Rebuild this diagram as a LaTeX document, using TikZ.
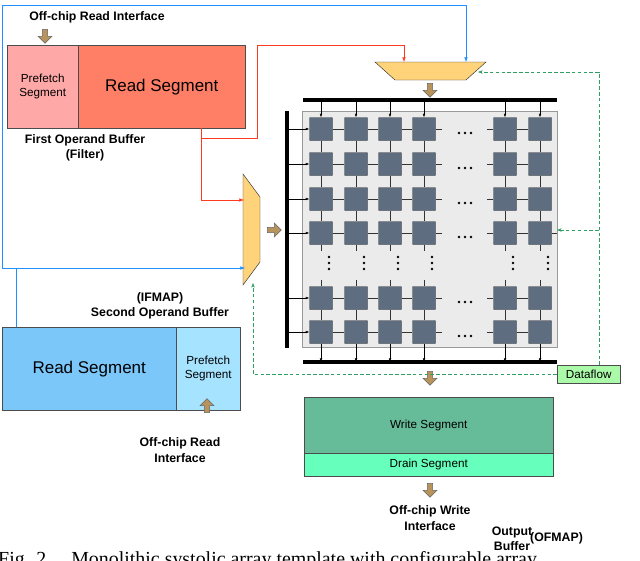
\documentclass[tikz,border=0pt]{standalone}
\usepackage{fontspec}
\setmainfont{Liberation Sans}
\newfontfamily\capfont{Liberation Serif}
\usepackage{tikz}
\usetikzlibrary{shapes,arrows,arrows.meta,shapes.arrows,calc}

\definecolor{blueln}{HTML}{1E90FF}
\definecolor{redln}{HTML}{FF3B1F}
\definecolor{greenln}{HTML}{2E9E63}
\definecolor{muxfill}{HTML}{FFD37A}
\definecolor{pefill}{HTML}{5E6E80}
\definecolor{brownarr}{HTML}{B8935C}

\tikzset{
  seg/.style={draw=black!70,rectangle,inner sep=0pt},
  pe/.style={draw=black!80,fill=pefill,minimum size=0.69cm,inner sep=0pt,rounded corners=0.5pt},
  bar/.style={line width=2.6pt},
  blk/.style={single arrow,draw=black!60,fill=brownarr,minimum height=0.42cm,minimum width=0.42cm,
    single arrow head extend=0.06cm,inner sep=0.8pt},
  lbl/.style={font=\bfseries\fontsize{10.5}{13}\selectfont,inner sep=0pt,align=center},
  df/.style={draw=greenln,densely dashed,thin,-{Stealth[length=4pt]}},
  link/.style={draw=black!80,thin},
  vdot/.style={circle,fill=black,inner sep=0pt,minimum size=2.2pt}
}

\begin{document}
\begin{tikzpicture}[x=0.03cm,y=-0.03cm]
  \useasboundingbox (0,0) rectangle (640,561);
  % first operand buffer
  \node[seg,fill={rgb,255:red,255;green,168;blue,168},minimum width=2.13cm,minimum height=2.49cm,anchor=north west,
    font=\fontsize{10}{12}\selectfont,align=center] (pf1) at (7,45) {Prefetch\\Segment};
  \node[seg,fill={rgb,255:red,255;green,127;blue,102},minimum width=5.01cm,minimum height=2.49cm,anchor=north west,
    font=\fontsize{14.5}{16}\selectfont] (rs1) at (78,45) {Read Segment};
  \node[lbl] (oc1) at (97,17) {Off-chip Read Interface};
  \node[blk,rotate=-90] (a1) at (45,35) {};
  \node[lbl] (fob) at (85,148) {First Operand Buffer\\(Filter)};

  % second operand buffer
  \node[seg,fill={rgb,255:red,124;green,199;blue,250},minimum width=5.22cm,minimum height=2.49cm,anchor=north west,
    font=\fontsize{14.5}{16}\selectfont] (rs2) at (2,327) {Read Segment};
  \node[seg,fill={rgb,255:red,166;green,227;blue,255},minimum width=1.92cm,minimum height=2.49cm,anchor=north west,
    font=\fontsize{10}{12}\selectfont,align=center] (pf2) at (176,327) {Prefetch\\Segment};
  \node[lbl] (sob) at (160,306) {(IFMAP)\\Second Operand Buffer};
  \node[blk,rotate=90] (a2) at (207,407) {};
  \node[lbl] (oc2) at (180,450) {Off-chip Read\\Interface};

  % muxes
  \draw[fill=muxfill,draw=black!80] (375,62) coordinate (mt) -- (486,62) -- (466,80) -- (395,80) -- cycle;
  \draw[fill=muxfill,draw=black!80] (243,174) coordinate (ml) -- (260,197) -- (260,262) -- (243,285) -- cycle;
  \node[blk,rotate=-90] (a3) at (430,89) {};
  \node[blk] (a4) at (273,230) {};

  % array
  \fill[black!8] (302,111) rectangle (557,347);
  \draw[black!40] (302,111) rectangle (557,347);
  \draw[bar] (303,100) -- (557,100);
  \draw[bar] (303,362) -- (557,362);
  \draw[bar] (287,111) -- (287,348);
  \foreach \c/\x in {1/321,2/356,3/390,4/424,5/505,6/540}{
    \foreach \r/\y in {1/129,2/164,3/199,4/233,5/298,6/332}
      \node[pe] (pe-\r-\c) at (\x,\y) {};
    \draw[-{Latex[length=3pt]}] (\x,100) -- (pe-1-\c.north);
    \draw[-{Latex[length=3pt]}] (pe-6-\c.south) -- (\x,362);
    \foreach \r/\s in {1/2,2/3,3/4,5/6}
      \draw[link] (pe-\r-\c) -- (pe-\s-\c);
    \draw[link] (pe-4-\c.south) -- ++(0,6);
    \draw[link] (pe-5-\c.north) -- ++(0,-6);
    \foreach \y in {257,263,269}
      \node[vdot] at (\x+8,\y) {};
  }
  \foreach \r/\y in {1/129,2/164,3/199,4/233,5/298,6/332}{
    \draw[-{Latex[length=3pt]}] (287,\y) -- (pe-\r-1.west);
    \foreach \c/\d in {1/2,2/3,3/4,5/6}
      \draw[link] (pe-\r-\c) -- (pe-\r-\d);
    \draw[link] (pe-\r-4.east) -- ++(6,0);
    \draw[link] (pe-\r-5.west) -- ++(-6,0);
    \foreach \x in {459,465,471}
      \node[vdot] at (\x,\y+4) {};
  }
  \draw[link] (pe-4-6.east) -- (557,233);

  % output buffer
  \node[blk,rotate=-90] (a5) at (430,377) {};
  \node[seg,fill={rgb,255:red,102;green,187;blue,153},minimum width=7.47cm,minimum height=1.68cm,anchor=north west,
    font=\fontsize{10}{12}\selectfont] (ws) at (304,397) {Write Segment};
  \node[seg,fill={rgb,255:red,102;green,255;blue,187},minimum width=7.47cm,minimum height=0.69cm,anchor=north west,
    font=\fontsize{10}{12}\selectfont] (ds) at (304,453) {Drain Segment};
  \node[blk,rotate=-90] (a6) at (430,489) {};
  \node[lbl] (oc3) at (430,518) {Off-chip Write\\Interface};
  \node[lbl] (ob) at (512,539) {Output\\Buffer};
  \node[lbl,anchor=west] (ofm) at (530,538) {(OFMAP)};

  % dataflow control
  \node[seg,fill={rgb,255:red,170;green,250;blue,170},minimum width=1.89cm,minimum height=0.54cm,anchor=north west,
    font=\fontsize{10}{12}\selectfont] (dfl) at (557,365) {Dataflow};
  \draw[df] (dfl.north) ++(10,0) |- (478,72);
  \draw[df] (dfl.north) ++(10,-135) -- (557,230);
  \draw[df] (dfl.west) -| (253,283);

  % operand wiring
  \draw[redln,-{Latex[length=4pt]}] (201,128) |- (257,138) |- (404,45) -- (404,62);
  \draw[redln,-{Latex[length=4pt]}] (201,138) |- (244,200);
  \draw[blueln,-{Latex[length=4pt]}] (16,327) |- (245,268);
  \draw[blueln,-{Latex[length=4pt]}] (16,268) -| (2,5) -| (466,62);

  % caption (cut by the page)
  \node[anchor=north west,inner sep=0pt,font=\capfont\fontsize{17}{18}\selectfont] (cap) at (-2,551)
    {Fig. 2.\quad Monolithic systolic array template with configurable array};
\end{tikzpicture}
\end{document}
